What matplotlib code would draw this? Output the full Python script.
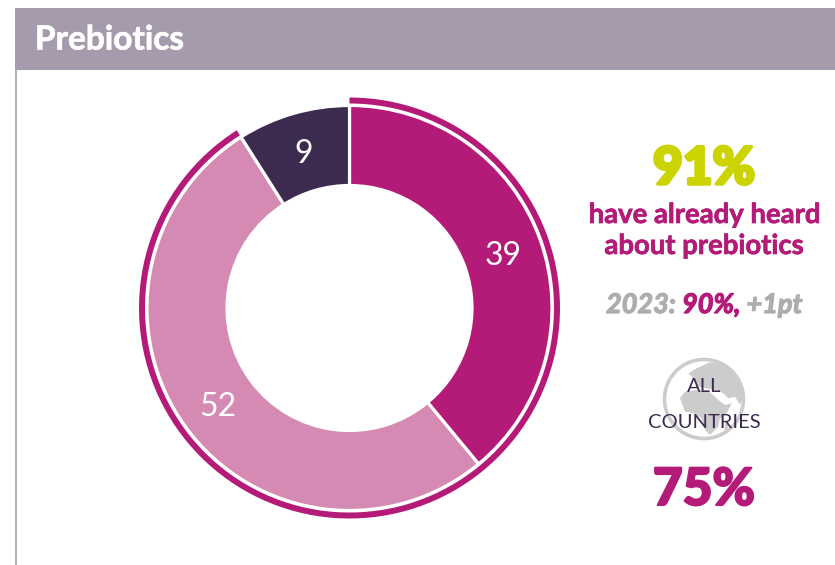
import matplotlib
matplotlib.use("Agg")
import matplotlib.pyplot as plt
import matplotlib.patheffects as pe
from matplotlib.patches import Rectangle, Circle, Polygon

plt.rcParams["font.family"] = ["Lato", "DejaVu Sans"]

# ---------------------------
# Data
# ---------------------------
title = "Prebiotics"
segments = [39, 52, 9]
aware_share = segments[0] + segments[1]
not_aware_share = segments[2]
prev_year = "2023:"
prev_value = "90%,"
prev_change = "+1pt"
all_countries = 75

MAGENTA = "#b41a78"
PINK = "#d58ab3"
DARK = "#3d2b4f"
LIME = "#cbd300"
GREY = "#adadad"
GLOBE = "#cccccc"

W, H = 835, 565


def py(y):
    # y measured from the top of the figure
    return H - y


fig = plt.figure(figsize=(W / 100, H / 100), dpi=100)
ax = fig.add_axes([0, 0, 1, 1])

# ---------------------------
# Donut and outer ring
# ---------------------------
cx, cy = 349.5, py(308)
_, labels, _ = ax.pie(segments, colors=[MAGENTA, PINK, DARK], startangle=90, counterclock=False,
                      center=(cx, cy), radius=202.5,
                      wedgeprops=dict(width=80, edgecolor="white", linewidth=2.3),
                      labels=[""] * len(segments),
                      autopct=lambda p: f"{p:.0f}", pctdistance=163 / 202.5,
                      textprops=dict(color="white", fontsize=23))
ax.pie([aware_share, not_aware_share], colors=[MAGENTA, "none"], startangle=90,
       counterclock=False, center=(cx, cy), radius=210.5,
       wedgeprops=dict(width=6, linewidth=0))
ax.set_xlim(0, W)
ax.set_ylim(0, H)
ax.set_aspect("auto")
ax.axis("off")

# pie centres its labels on the box, the digits sit a little high that way
for t in ax.texts:
    t.set_va("center_baseline")

# ---------------------------
# Panel header
# ---------------------------
ax.add_patch(Rectangle((15, py(70)), W - 15, 62, color="#a59bad", lw=0))
ax.add_patch(Rectangle((15, 0), 1.6, py(70), color="#b5b0bd", lw=0))
ax.text(35, py(40), title, color="white", fontsize=24, fontweight="bold", va="center", ha="left",
        path_effects=[pe.withStroke(linewidth=0.5, foreground="white")])

# ---------------------------
# Right hand figures
# ---------------------------
ax.text(704, py(165), f"{aware_share}%", color=LIME, fontsize=37, fontweight="black",
        ha="center", va="center_baseline",
        path_effects=[pe.withStroke(linewidth=2.5, foreground=LIME)])
ax.text(704, py(215), "have already heard", color=MAGENTA, fontsize=19.8, fontweight="bold",
        ha="center", va="center",
        path_effects=[pe.withStroke(linewidth=0.5, foreground=MAGENTA)])
ax.text(704, py(246), "about prebiotics", color=MAGENTA, fontsize=19.8, fontweight="bold",
        ha="center", va="center",
        path_effects=[pe.withStroke(linewidth=0.5, foreground=MAGENTA)])

# comparison line, three pieces placed one after the other
fig.canvas.draw()
renderer = fig.canvas.get_renderer()
x = 606
for s, col in [(prev_year, GREY), (prev_value, MAGENTA), (prev_change, GREY)]:
    t = ax.text(x, py(305), s, color=col, fontsize=19.5, fontweight="bold",
                fontstyle="italic", ha="left", va="center",
                path_effects=[pe.withStroke(linewidth=0.9, foreground=col)])
    x = t.get_window_extent(renderer).x1 + 6

# ---------------------------
# Globe badge
# ---------------------------
gx, gy = 704, py(399)
ax.add_patch(Circle((gx, gy), 39.5, facecolor="white", edgecolor=GLOBE, linewidth=2.6))

# land outlines, drawn on a 270 unit square around the globe
land_outlines = [
    # Eurasia
    [(110, 40), (150, 22), (200, 30), (240, 70), (252, 120), (240, 150), (225, 125),
     (205, 130), (190, 115), (170, 105), (140, 100), (115, 95), (100, 70), (85, 55)],
    # Africa
    [(60, 130), (75, 110), (110, 105), (150, 112), (175, 135), (195, 150), (215, 145),
     (200, 175), (180, 190), (175, 215), (150, 240), (135, 225), (125, 190), (100, 175),
     (75, 170)],
    # Madagascar
    [(196, 205), (205, 200), (202, 225), (193, 225)],
]
for outline in land_outlines:
    points = [(gx + (a - 132) / 3, gy + (132 - b) / 3) for a, b in outline]
    ax.add_patch(Polygon(points, closed=True, color=GLOBE, lw=0))

ax.text(704, py(387), "ALL", color=DARK, fontsize=14.5, ha="center", va="center")
ax.text(704, py(422), "COUNTRIES", color=DARK, fontsize=14.5, ha="center", va="center")
ax.text(704, py(486), f"{all_countries}%", color=MAGENTA, fontsize=37, fontweight="black",
        ha="center", va="center_baseline",
        path_effects=[pe.withStroke(linewidth=1.5, foreground=MAGENTA)])

fig.savefig("out.png", dpi=100, facecolor="white")
